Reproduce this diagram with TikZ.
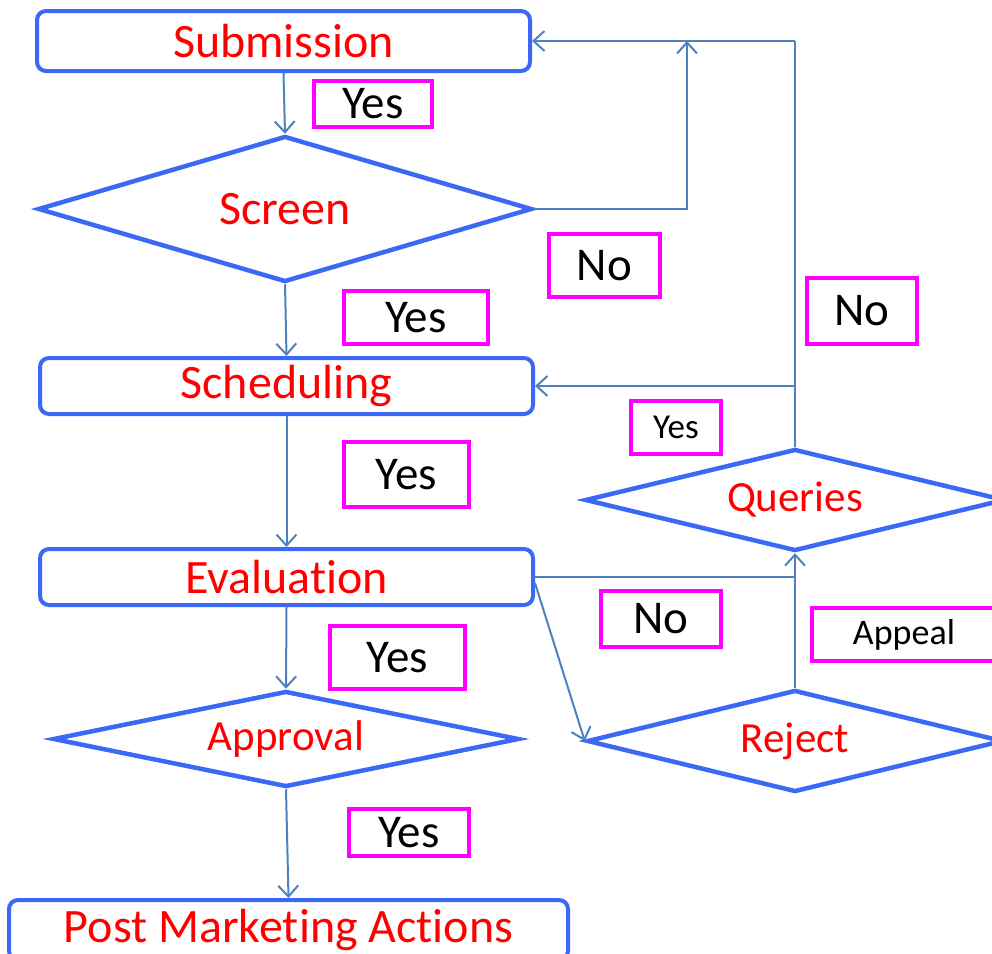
\documentclass[tikz,border=0pt]{standalone}
\usepackage{fontspec}
\setmainfont[Ligatures=NoCommon]{Carlito}
\usetikzlibrary{shapes.geometric,arrows.meta}

\definecolor{boxblue}{RGB}{59,105,245}
\definecolor{linkblue}{RGB}{79,129,189}
\definecolor{tagpink}{RGB}{255,0,255}

\begin{document}
\begin{tikzpicture}[x=1pt,y=-1pt]

  % Styles for steps, decisions, tags and links
  \tikzset{stepbox/.style={draw=boxblue, line width=4pt, rounded corners=9pt, text=red,
      inner sep=0pt, font=\fontsize{48}{52}\selectfont},
    decision/.style={diamond, aspect=3, draw=boxblue, line width=4.5pt, text=red,
      inner sep=0pt, font=\fontsize{43}{48}\selectfont},
    tag/.style={draw=tagpink, line width=3.5pt, inner sep=0pt, text=black,
      font=\fontsize{47}{50}\selectfont},
    link/.style={draw=linkblue, line width=2pt, -{Straight Barb[length=11pt,width=20pt]}}}

  % Fix the page to the size of the chart
  \useasboundingbox (0,0) rectangle (992,953);
  \clip (0,0) rectangle (992,953);

  % Steps (left column)
  \node[stepbox, minimum width=493pt, minimum height=60pt] (sub) at (283.5,41) {Submission};
  \node[decision, minimum width=494pt, minimum height=146pt, font=\fontsize{48}{52}\selectfont] (screen) at (285,209) {Screen};
  \node[stepbox, minimum width=493pt, minimum height=56pt] (sched) at (286.5,386) {Scheduling};
  \node[stepbox, minimum width=493pt, minimum height=56pt] (eval) at (286.5,577) {Evaluation};
  \node[decision, minimum width=466pt, minimum height=96pt] (approval) at (286,739) {Approval};
  \node[stepbox, minimum width=559pt, minimum height=60pt] (pma) at (288.5,930) {Post Marketing Actions};

  % Decisions (right column)
  \node[decision, minimum width=420pt, minimum height=102pt] (queries) at (795,500) {Queries};
  \node[decision, minimum width=416pt, minimum height=102pt] (reject) at (795,741) {Reject};

  % Tags on the links
  \node[tag, minimum width=118pt, minimum height=46pt] (yesA) at (373,104) {Yes};
  \node[tag, minimum width=111pt, minimum height=63pt] (noA) at (604.5,265.5) {No};
  \node[tag, minimum width=144pt, minimum height=53pt] (yesB) at (416,317.5) {Yes};
  \node[tag, minimum width=110pt, minimum height=66pt] (noB) at (862,311) {No};
  \node[tag, minimum width=90pt, minimum height=53pt, font=\fontsize{35}{38}\selectfont] (yesC) at (676,427.5) {Yes};
  \node[tag, minimum width=125pt, minimum height=65pt] (yesD) at (406.5,474.5) {Yes};
  \node[tag, minimum width=120pt, minimum height=56pt] (noC) at (661,619) {No};
  \node[tag, minimum width=184pt, minimum height=53pt, font=\fontsize{36}{40}\selectfont] (appeal) at (904,634.5) {Appeal};
  \node[tag, minimum width=135pt, minimum height=63pt] (yesE) at (397.5,657.5) {Yes};
  \node[tag, minimum width=120pt, minimum height=47pt] (yesF) at (409,832.5) {Yes};

  % Corner points of the return lines
  \coordinate (upA) at (687,41);
  \coordinate (topR) at (795,41);
  \coordinate (midR) at (795,386);
  \coordinate (evalR) at (795,577);

  % Main flow
  \draw[link] (sub.south) -- (screen.north);
  \draw[link] (screen.south) -- (sched.north);
  \draw[link] (sched.south) -- (eval.north);
  \draw[link] (eval.south) -- (approval.north);
  \draw[link] (approval.south) -- (pma.north);

  % Return lines
  \draw[link] (screen.east) -| (upA);
  \draw[link, -] (queries.north) -- (topR);
  \draw[link] (topR) -- (sub.east);
  \draw[link] (midR) -- (sched.east);
  \draw[link, -] (eval.east) -- (evalR);
  \draw[link] (reject.north) -- (queries.south);
  \draw[link] ([yshift=-6pt]eval.east) -- (reject.west);

\end{tikzpicture}
\end{document}
